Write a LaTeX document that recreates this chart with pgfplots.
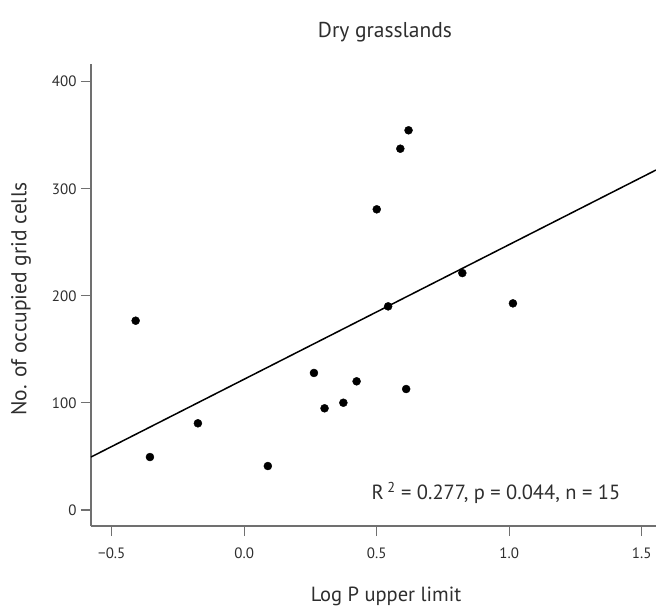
\documentclass[border=0pt]{standalone}
\usepackage{fontspec}
\setmainfont{PT Sans}
\usepackage{pgfplots}
\pgfplotsset{compat=1.18}
\definecolor{axgray}{HTML}{707070}
\definecolor{txt}{HTML}{2E2E2E}
\begin{document}
\begin{tikzpicture}
\useasboundingbox (-91pt,-82pt) rectangle (565pt,526pt);
\begin{axis}[
  at={(0pt,0pt)}, anchor=south west,
  scale only axis, width=565pt, height=462pt,
  xmin=-0.5785, xmax=1.554, ymin=-14.9, ymax=416.5,
  axis lines=left,
  axis line style={-, axgray, line width=1.1pt},
  tick align=outside, major tick length=10pt,
  tick style={axgray, line width=1.1pt},
  xtick={-0.5,0,0.5,1,1.5},
  xticklabels={−0.5,0.0,0.5,1.0,1.5},
  ytick={0,100,200,300,400},
  yticklabels={0,100,200,300,400},
  tick label style={font=\fontsize{15}{16}\selectfont, text=txt},
  xticklabel style={yshift=-8pt},
  yticklabel style={xshift=-1pt},
]
\addplot[black, line width=1.5pt] coordinates {(-0.5785,49.5) (1.554,317.5)};
\addplot[only marks, mark=*, mark size=4pt, mark options={fill=black, draw=black}] coordinates {
(-0.410,176.8) (-0.356,49.5) (-0.175,81.0) (0.089,41.1) (0.263,128.0)
(0.303,95.0) (0.374,100.2) (0.424,120.2) (0.500,280.8) (0.543,190.2)
(0.589,337.4) (0.611,113.0) (0.620,354.6) (0.823,221.3) (1.014,193.0)
};
\end{axis}
\node[text=txt, font=\fontsize{21.5}{26}\selectfont] at (294pt,494pt) {Dry grasslands};
\node[text=txt, font=\fontsize{21.5}{24}\selectfont, rotate=90] at (-70pt,227pt) {No. of occupied grid cells};
\node[text=txt, font=\fontsize{20.5}{24}\selectfont] at (295pt,-70pt) {Log P upper limit};
\node[text=txt, font=\fontsize{20.5}{24}\selectfont] at (405pt,33pt) {R\,\textsuperscript{2} = 0.277, p = 0.044, n = 15};
\end{tikzpicture}
\end{document}
